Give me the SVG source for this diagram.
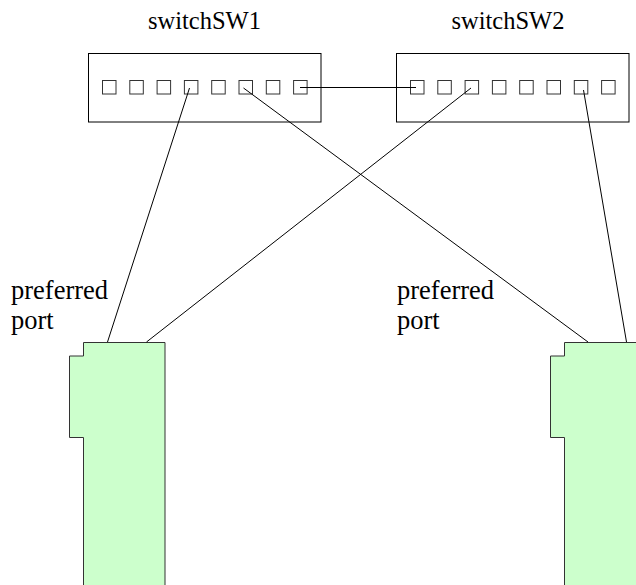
<svg xmlns="http://www.w3.org/2000/svg" width="636" height="585" viewBox="0 0 636 585">
  <style>
    .box { fill: #ffffff; stroke: #000000; stroke-width: 1; }
    .port { fill: #ffffff; stroke: #333333; stroke-width: 1; }
    .card { fill: #ccffcc; stroke: #333333; stroke-width: 1; }
    .wire { fill: none; stroke: #000000; stroke-width: 1; }
    text { font-family: 'Liberation Serif', 'Times New Roman', serif; fill: #000000; }
    .title { font-size: 24.5px; }
    .label { font-size: 26.5px; }
  </style>
  <defs>
    <g id="ports">
      <rect class="port" x="0" y="0" width="13.5" height="13.5"/>
      <rect class="port" x="27.3" y="0" width="13.5" height="13.5"/>
      <rect class="port" x="54.6" y="0" width="13.5" height="13.5"/>
      <rect class="port" x="81.9" y="0" width="13.5" height="13.5"/>
      <rect class="port" x="109.2" y="0" width="13.5" height="13.5"/>
      <rect class="port" x="136.5" y="0" width="13.5" height="13.5"/>
      <rect class="port" x="163.8" y="0" width="13.5" height="13.5"/>
      <rect class="port" x="191.1" y="0" width="13.5" height="13.5"/>
    </g>
  </defs>

  <rect width="636" height="585" fill="#ffffff"/>

  <g id="switchSW1">
    <rect class="box" x="88.5" y="53.5" width="232.5" height="68.5"/>
    <use href="#ports" x="102.5" y="80.5"/>
    <text class="title" x="204.5" y="29" text-anchor="middle">switchSW1</text>
  </g>

  <g id="switchSW2">
    <rect class="box" x="396.5" y="53.5" width="232.5" height="68.5"/>
    <use href="#ports" x="410.5" y="80.5"/>
    <text class="title" x="508" y="29" text-anchor="middle">switchSW2</text>
  </g>

  <g id="card-left">
    <path class="card" d="M83.5 342.5 H165 V590 H83.5 V437.5 H69.5 V356 H83.5 Z"/>
    <text class="label" x="11" y="299">preferred</text>
    <text class="label" x="11" y="329">port</text>
  </g>

  <g id="card-right">
    <path class="card" d="M564.5 342.5 H645 V590 H564.5 V437.5 H550.5 V356 H564.5 Z"/>
    <text class="label" x="397" y="299">preferred</text>
    <text class="label" x="397" y="329">port</text>
  </g>

  <g id="connectors">
    <line class="wire" x1="300" y1="87.5" x2="416" y2="87.5"/>
    <line class="wire" x1="189.5" y1="88" x2="107.5" y2="342"/>
    <line class="wire" x1="243.5" y1="88" x2="588" y2="342"/>
    <line class="wire" x1="471" y1="88" x2="146.5" y2="342"/>
    <line class="wire" x1="583.5" y1="90" x2="626.5" y2="342"/>
  </g>
</svg>
